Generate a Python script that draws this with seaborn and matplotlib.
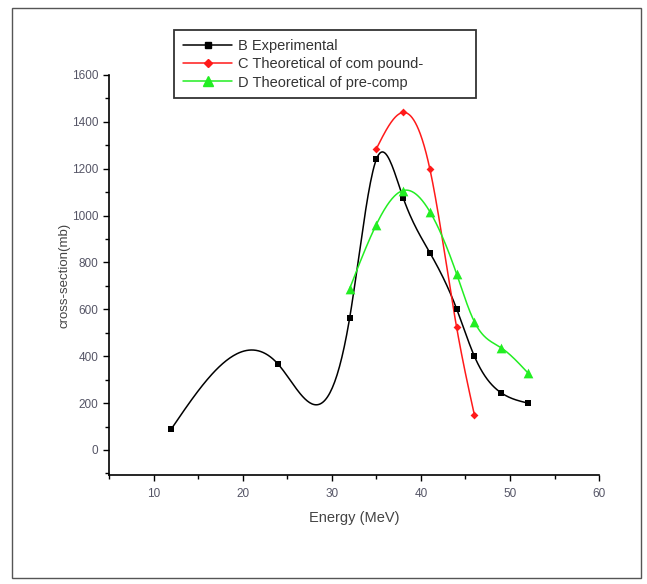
import numpy as np
import pandas as pd
import matplotlib
matplotlib.use("Agg")
import matplotlib.pyplot as plt
import seaborn as sns
from matplotlib.patches import Rectangle
from matplotlib.ticker import MultipleLocator

# valores
exp_energy = [12, 24, 32, 35, 38, 41, 44, 46, 49, 52]
exp_xs = [90, 365, 562, 1240, 1077, 842, 603, 400, 244, 200]

comp_energy = [35, 38, 41, 44, 46]
comp_xs = [1285, 1440, 1200, 525, 150]

pre_energy = [32, 35, 38, 41, 44, 46, 49, 52]
pre_xs = [688, 962, 1107, 1017, 752, 547, 436, 329]

labels = ["B Experimental", "C Theoretical of com pound-", "D Theoretical of pre-comp"]
colors = ["black", "#ff1a1a", "#22ee22"]
markers = ["s", "D", "^"]
msizes = [5, 4, 7]


def natural_spline(x, y, n=300):
    # spline cubico natural, solo para dibujar la curva suave
    x = np.asarray(x, float)
    y = np.asarray(y, float)
    k = len(x)
    h = np.diff(x)
    A = np.zeros((k, k))
    b = np.zeros(k)
    A[0, 0] = A[-1, -1] = 1
    for i in range(1, k - 1):
        A[i, i - 1] = h[i - 1]
        A[i, i] = 2 * (h[i - 1] + h[i])
        A[i, i + 1] = h[i]
        b[i] = 6 * ((y[i + 1] - y[i]) / h[i] - (y[i] - y[i - 1]) / h[i - 1])
    M = np.linalg.solve(A, b)
    xs = np.linspace(x[0], x[-1], n)
    idx = np.clip(np.searchsorted(x, xs) - 1, 0, k - 2)
    x0, x1 = x[idx], x[idx + 1]
    hh = x1 - x0
    t0, t1 = x1 - xs, xs - x0
    ys = (M[idx] * t0**3 + M[idx + 1] * t1**3) / (6 * hh) \
        + (y[idx] / hh - M[idx] * hh / 6) * t0 \
        + (y[idx + 1] / hh - M[idx + 1] * hh / 6) * t1
    return xs, ys


sns.set_theme(style="white")
plt.rcParams['font.family'] = ['Liberation Sans', 'DejaVu Sans']

fig = plt.figure(figsize=(6.47, 5.84), dpi=100)
ax = fig.add_axes([0.1685, 0.1866, 0.7575, 0.685])

series = [(exp_energy, exp_xs), (comp_energy, comp_xs), (pre_energy, pre_xs)]
handles = []
for (ex, ey), lab, col, mk, ms in zip(series, labels, colors, markers, msizes):
    sx, sy = natural_spline(ex, ey)
    curve = pd.DataFrame({"e": sx, "xs": sy})
    pts = pd.DataFrame({"e": ex, "xs": ey})
    sns.lineplot(data=curve, x="e", y="xs", ax=ax, color=col, lw=1.1, sort=False)
    sns.scatterplot(data=pts, x="e", y="xs", ax=ax, color=col, marker=mk,
                    s=ms**2, edgecolor=col, linewidth=0, zorder=5)
    handles.append(plt.Line2D([], [], color=col, marker=mk, markersize=ms, lw=1.1))

ax.set_xlim(5, 60)
ax.set_ylim(-107, 1600)
ax.xaxis.set_major_locator(MultipleLocator(10))
ax.xaxis.set_minor_locator(MultipleLocator(5))
ax.yaxis.set_major_locator(MultipleLocator(200))
ax.yaxis.set_minor_locator(MultipleLocator(100))
ax.tick_params(which="both", direction="out", color="black", labelsize=8.5,
               labelcolor="#555566", left=True, bottom=True)
ax.tick_params(which="major", length=4, width=1)
ax.tick_params(which="minor", length=3, width=1)
ax.tick_params(axis="x", pad=5)
for side in ["top", "right"]:
    ax.spines[side].set_visible(False)
for side in ["left", "bottom"]:
    ax.spines[side].set_color("black")
    ax.spines[side].set_linewidth(1.2)
ax.set_xlabel("Energy (MeV)", fontsize=10.5, color="#444444", labelpad=8)
ax.set_ylabel("cross-section(mb)", fontsize=9.5, color="#444444", labelpad=1)

leg = fig.legend(handles, labels, loc="upper left",
                 bbox_to_anchor=(174 / 647, 0.80, 302 / 647, 0.1486),
                 mode="expand", fontsize=10.5, frameon=True, fancybox=False,
                 handlelength=3.4, borderpad=0.6, labelspacing=0.3,
                 handletextpad=0.4, borderaxespad=0)
leg.get_frame().set_edgecolor("black")
leg.get_frame().set_linewidth(1.3)
for t in leg.get_texts():
    t.set_color("#333333")

fig.patches.append(Rectangle((12 / 647, 6 / 584), 629 / 647, 570 / 584,
                             transform=fig.transFigure, fill=False,
                             edgecolor="#555555", lw=1))

fig.savefig("out.png", dpi=100)
